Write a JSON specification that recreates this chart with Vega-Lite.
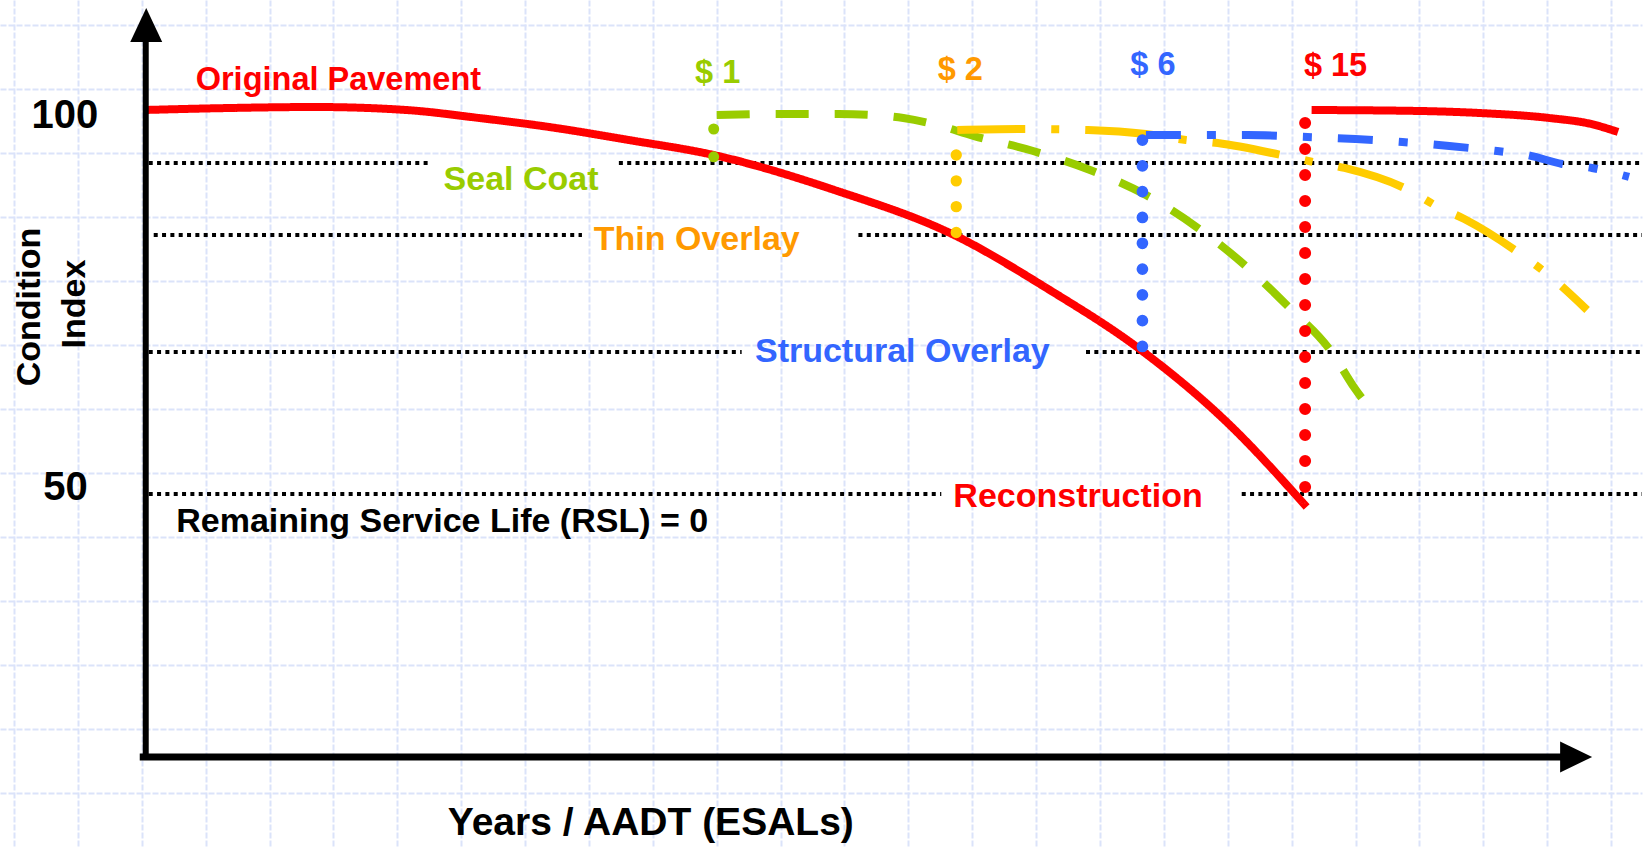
{
  "$schema": "https://vega.github.io/schema/vega-lite/v6.json",
  "width": 1645,
  "height": 847,
  "autosize": {"type": "fit", "contains": "padding"},
  "padding": 0,
  "background": "white",
  "config": {"view": {"stroke": null}, "text": {"font": "Liberation Sans", "fontWeight": "bold"}},
  "datasets": {
    "thresholds": [
      {"name": "Seal Coat", "t": 0.3, "t2": 28.5, "v": 93.10},
      {"name": "Seal Coat", "t": 47.4, "t2": 149.9, "v": 93.10},
      {"name": "Thin Overlay", "t": 0.8, "t2": 43.7, "v": 83.72},
      {"name": "Thin Overlay", "t": 71.4, "t2": 149.9, "v": 83.72},
      {"name": "Structural Overlay", "t": 0.3, "t2": 59.7, "v": 68.49},
      {"name": "Structural Overlay", "t": 94.2, "t2": 149.9, "v": 68.49},
      {"name": "Reconstruction", "t": 0.3, "t2": 79.7, "v": 50.0},
      {"name": "Reconstruction", "t": 109.8, "t2": 149.9, "v": 50.0}
    ],
    "curves": [
      {"series": "Original Pavement", "i": 0, "t": -0.1, "v": 100.0},
      {"series": "Original Pavement", "i": 1, "t": 8.4, "v": 100.26},
      {"series": "Original Pavement", "i": 2, "t": 17.0, "v": 100.39},
      {"series": "Original Pavement", "i": 3, "t": 26.1, "v": 100.0},
      {"series": "Original Pavement", "i": 4, "t": 33.4, "v": 98.96},
      {"series": "Original Pavement", "i": 5, "t": 40.4, "v": 97.79},
      {"series": "Original Pavement", "i": 6, "t": 48.4, "v": 96.09},
      {"series": "Original Pavement", "i": 7, "t": 56.9, "v": 94.14},
      {"series": "Original Pavement", "i": 8, "t": 69.0, "v": 89.58},
      {"series": "Original Pavement", "i": 9, "t": 81.2, "v": 83.59},
      {"series": "Original Pavement", "i": 10, "t": 90.4, "v": 76.69},
      {"series": "Original Pavement", "i": 11, "t": 99.7, "v": 68.75},
      {"series": "Original Pavement", "i": 12, "t": 108.4, "v": 59.24},
      {"series": "Original Pavement", "i": 13, "t": 116.3, "v": 48.31},
      {"series": "Reconstruction", "i": 0, "t": 116.8, "v": 100.0},
      {"series": "Reconstruction", "i": 1, "t": 127.7, "v": 99.87},
      {"series": "Reconstruction", "i": 2, "t": 133.6, "v": 99.61},
      {"series": "Reconstruction", "i": 3, "t": 140.6, "v": 98.96},
      {"series": "Reconstruction", "i": 4, "t": 144.8, "v": 98.18},
      {"series": "Reconstruction", "i": 5, "t": 147.5, "v": 97.14},
      {"series": "Seal Coat", "i": 0, "t": 57.2, "v": 99.35},
      {"series": "Seal Coat", "i": 1, "t": 63.4, "v": 99.48},
      {"series": "Seal Coat", "i": 2, "t": 69.4, "v": 99.48},
      {"series": "Seal Coat", "i": 3, "t": 72.9, "v": 99.35},
      {"series": "Seal Coat", "i": 4, "t": 75.9, "v": 98.96},
      {"series": "Seal Coat", "i": 5, "t": 78.9, "v": 98.18},
      {"series": "Seal Coat", "i": 6, "t": 83.0, "v": 96.61},
      {"series": "Seal Coat", "i": 7, "t": 88.9, "v": 94.66},
      {"series": "Seal Coat", "i": 8, "t": 94.6, "v": 92.19},
      {"series": "Seal Coat", "i": 9, "t": 100.2, "v": 88.93},
      {"series": "Seal Coat", "i": 10, "t": 105.4, "v": 84.64},
      {"series": "Seal Coat", "i": 11, "t": 110.2, "v": 79.69},
      {"series": "Seal Coat", "i": 12, "t": 114.4, "v": 74.48},
      {"series": "Seal Coat", "i": 13, "t": 118.8, "v": 68.49},
      {"series": "Seal Coat", "i": 14, "t": 121.1, "v": 63.80},
      {"series": "Seal Coat", "i": 15, "t": 123.4, "v": 59.90},
      {"series": "Thin Overlay", "i": 0, "t": 81.3, "v": 97.40},
      {"series": "Thin Overlay", "i": 1, "t": 88.2, "v": 97.53},
      {"series": "Thin Overlay", "i": 2, "t": 94.4, "v": 97.40},
      {"series": "Thin Overlay", "i": 3, "t": 100.2, "v": 96.88},
      {"series": "Thin Overlay", "i": 4, "t": 104.2, "v": 96.09},
      {"series": "Thin Overlay", "i": 5, "t": 107.4, "v": 95.70},
      {"series": "Thin Overlay", "i": 6, "t": 114.2, "v": 94.01},
      {"series": "Thin Overlay", "i": 7, "t": 117.0, "v": 93.23},
      {"series": "Thin Overlay", "i": 8, "t": 120.1, "v": 92.45},
      {"series": "Thin Overlay", "i": 9, "t": 126.9, "v": 89.32},
      {"series": "Thin Overlay", "i": 10, "t": 129.3, "v": 87.50},
      {"series": "Thin Overlay", "i": 11, "t": 132.1, "v": 85.81},
      {"series": "Thin Overlay", "i": 12, "t": 138.0, "v": 80.99},
      {"series": "Thin Overlay", "i": 13, "t": 140.4, "v": 78.65},
      {"series": "Thin Overlay", "i": 14, "t": 144.4, "v": 73.96},
      {"series": "Structural Overlay", "i": 0, "t": 100.2, "v": 96.74},
      {"series": "Structural Overlay", "i": 1, "t": 110.4, "v": 96.74},
      {"series": "Structural Overlay", "i": 2, "t": 116.4, "v": 96.48},
      {"series": "Structural Overlay", "i": 3, "t": 121.2, "v": 96.22},
      {"series": "Structural Overlay", "i": 4, "t": 125.9, "v": 95.83},
      {"series": "Structural Overlay", "i": 5, "t": 130.6, "v": 95.31},
      {"series": "Structural Overlay", "i": 6, "t": 135.4, "v": 94.66},
      {"series": "Structural Overlay", "i": 7, "t": 138.4, "v": 94.14},
      {"series": "Structural Overlay", "i": 8, "t": 141.9, "v": 92.97},
      {"series": "Structural Overlay", "i": 9, "t": 144.9, "v": 92.45},
      {"series": "Structural Overlay", "i": 10, "t": 148.6, "v": 91.28}
    ],
    "treatments": [
      {"series": "Seal Coat", "i": 0, "t": 56.9, "v": 97.53},
      {"series": "Seal Coat", "i": 1, "t": 56.9, "v": 93.88},
      {"series": "Thin Overlay", "i": 0, "t": 81.2, "v": 94.14},
      {"series": "Thin Overlay", "i": 1, "t": 81.2, "v": 84.0},
      {"series": "Structural Overlay", "i": 0, "t": 99.85, "v": 96.09},
      {"series": "Structural Overlay", "i": 1, "t": 99.85, "v": 69.14},
      {"series": "Reconstruction", "i": 0, "t": 116.15, "v": 98.31},
      {"series": "Reconstruction", "i": 1, "t": 116.15, "v": 50.78}
    ],
    "axes": [
      {"name": "y", "t": 0, "v": 108.85, "t2": 0, "v2": 15.37},
      {"name": "x", "t": -0.6, "v": 15.76, "t2": 141.9, "v2": 15.76}
    ],
    "arrows": [
      {"name": "y", "t": 0.05, "v": 111.07},
      {"name": "x", "t": 143.3, "v": 15.76}
    ],
    "labels": [
      {"text": "Seal Coat", "series": "Seal Coat", "t": 37.6, "v": 89.58},
      {"text": "Thin Overlay", "series": "Thin Overlay", "t": 55.2, "v": 81.77},
      {"text": "Structural Overlay", "series": "Structural Overlay", "t": 75.8, "v": 67.19},
      {"text": "Reconstruction", "series": "Reconstruction", "t": 93.4, "v": 48.31},
      {"text": "Remaining Service Life (RSL) = 0", "series": "Threshold", "t": 29.7, "v": 45.05}
    ],
    "costs": [
      {"text": "Original Pavement", "series": "Original Pavement", "t": 19.3, "v": 102.60},
      {"text": "$ 1", "series": "Seal Coat", "t": 57.3, "v": 103.52},
      {"text": "$ 2", "series": "Thin Overlay", "t": 81.6, "v": 103.91},
      {"text": "$ 6", "series": "Structural Overlay", "t": 100.9, "v": 104.56},
      {"text": "$ 15", "series": "Reconstruction", "t": 119.2, "v": 104.43}
    ],
    "ticks": [
      {"text": "100", "t": -8.1, "v": 97.66},
      {"text": "50", "t": -8.05, "v": 49.22}
    ],
    "xtitle": [
      {"text": "Years / AADT (ESALs)", "t": 50.6, "v": 5.6}
    ],
    "ytitle": [
      {"text": "Condition", "t": -10.6, "v": 74.35},
      {"text": "Index", "t": -6.1, "v": 74.74}
    ]
  },
  "encoding": {
    "x": {
      "field": "t",
      "type": "quantitative",
      "scale": {"domain": [-14.6, 149.9], "nice": false, "zero": false},
      "axis": {
        "values": [-13.2, -6.8, -0.4, 6.0, 12.4, 18.8, 25.2, 31.6, 38.0, 44.4, 50.8, 57.2, 63.6, 70.0, 76.4, 82.8, 89.2, 95.6, 102.0, 108.4, 114.8, 121.2, 127.6, 134.0, 140.4, 146.8],
        "grid": true, "labels": false, "ticks": false, "domain": false, "title": null,
        "gridColor": "#dbe3fa", "gridWidth": 2, "gridDash": [6, 2]
      }
    },
    "y": {
      "field": "v",
      "type": "quantitative",
      "scale": {"domain": [4.036, 114.323], "nice": false, "zero": false},
      "axis": {
        "values": [111.07, 102.73, 94.40, 86.07, 77.73, 69.40, 61.07, 52.73, 44.40, 36.07, 27.73, 19.40, 11.07],
        "grid": true, "labels": false, "ticks": false, "domain": false, "title": null,
        "gridColor": "#dbe3fa", "gridWidth": 2, "gridDash": [6, 2]
      }
    }
  },
  "layer": [
    {
      "data": {"name": "thresholds"},
      "mark": {"type": "rule", "color": "black", "strokeWidth": 4, "strokeDash": [4, 4.33], "strokeCap": "butt"},
      "encoding": {"x2": {"field": "t2"}}
    },
    {
      "data": {"name": "curves"},
      "mark": {"type": "line", "strokeWidth": 8, "strokeCap": "butt", "interpolate": "monotone"},
      "encoding": {
        "order": {"field": "i", "type": "quantitative"},
        "color": {
          "field": "series", "type": "nominal", "legend": null,
          "scale": {"domain": ["Original Pavement", "Seal Coat", "Thin Overlay", "Structural Overlay", "Reconstruction"], "range": ["#ff0000", "#99cc00", "#ffcc00", "#3366ff", "#ff0000"]}
        },
        "strokeDash": {
          "field": "series", "type": "nominal", "legend": null,
          "scale": {"domain": ["Original Pavement", "Seal Coat", "Thin Overlay", "Structural Overlay", "Reconstruction"], "range": [[1, 0], [33, 26], [68, 26, 8, 26], [35, 26, 9, 26], [1, 0]]}
        }
      }
    },
    {
      "data": {"name": "treatments"},
      "mark": {"type": "line", "strokeCap": "round"},
      "encoding": {
        "order": {"field": "i", "type": "quantitative"},
        "color": {
          "field": "series", "type": "nominal", "legend": null,
          "scale": {"domain": ["Seal Coat", "Thin Overlay", "Structural Overlay", "Reconstruction"], "range": ["#99cc00", "#ffcc00", "#3366ff", "#ff0000"]}
        },
        "strokeDash": {
          "field": "series", "type": "nominal", "legend": null,
          "scale": {"domain": ["Seal Coat", "Thin Overlay", "Structural Overlay", "Reconstruction"], "range": [[0.1, 27.7], [0.1, 25.7], [0.1, 25.7], [0.1, 25.9]]}
        },
        "strokeWidth": {
          "field": "series", "type": "nominal", "legend": null,
          "scale": {"domain": ["Seal Coat", "Thin Overlay", "Structural Overlay", "Reconstruction"], "range": [11, 12, 13, 11]}
        }
      }
    },
    {
      "data": {"name": "axes"},
      "mark": {"type": "rule", "color": "black", "strokeCap": "butt"},
      "encoding": {
        "x2": {"field": "t2"},
        "y2": {"field": "v2"},
        "strokeWidth": {"field": "name", "type": "nominal", "legend": null, "scale": {"domain": ["y", "x"], "range": [6, 7]}}
      }
    },
    {
      "data": {"name": "arrows"},
      "mark": {"type": "point", "filled": true, "color": "black", "opacity": 1, "strokeWidth": 0},
      "encoding": {
        "shape": {"field": "name", "type": "nominal", "legend": null, "scale": {"domain": ["y", "x"], "range": ["M0,-1L0.94,1L-0.94,1Z", "M1,0L-1,-0.97L-1,0.97Z"]}},
        "size": {"field": "name", "type": "nominal", "legend": null, "scale": {"domain": ["y", "x"], "range": [1156, 1024]}}
      }
    },
    {
      "data": {"name": "labels"},
      "mark": {"type": "text", "fontSize": 34, "align": "center", "baseline": "alphabetic"},
      "encoding": {
        "text": {"field": "text"},
        "color": {
          "field": "series", "type": "nominal", "legend": null,
          "scale": {"domain": ["Original Pavement", "Seal Coat", "Thin Overlay", "Structural Overlay", "Reconstruction", "Threshold"], "range": ["#ff0000", "#99cc00", "#ff9900", "#3366ff", "#ff0000", "#000000"]}
        }
      }
    },
    {
      "data": {"name": "costs"},
      "mark": {"type": "text", "fontSize": 32.5, "align": "center", "baseline": "alphabetic"},
      "encoding": {
        "text": {"field": "text"},
        "color": {
          "field": "series", "type": "nominal", "legend": null,
          "scale": {"domain": ["Original Pavement", "Seal Coat", "Thin Overlay", "Structural Overlay", "Reconstruction"], "range": ["#ff0000", "#99cc00", "#ff9900", "#3366ff", "#ff0000"]}
        }
      }
    },
    {
      "data": {"name": "ticks"},
      "mark": {"type": "text", "fontSize": 40, "align": "center", "baseline": "alphabetic", "color": "black"},
      "encoding": {"text": {"field": "text"}}
    },
    {
      "data": {"name": "xtitle"},
      "mark": {"type": "text", "fontSize": 39, "align": "center", "baseline": "alphabetic", "color": "black"},
      "encoding": {"text": {"field": "text"}}
    },
    {
      "data": {"name": "ytitle"},
      "mark": {"type": "text", "fontSize": 34, "align": "center", "baseline": "alphabetic", "angle": 270, "color": "black"},
      "encoding": {"text": {"field": "text"}}
    }
  ],
  "resolve": {"scale": {"color": "independent", "strokeDash": "independent", "strokeWidth": "independent", "shape": "independent", "size": "independent"}}
}
